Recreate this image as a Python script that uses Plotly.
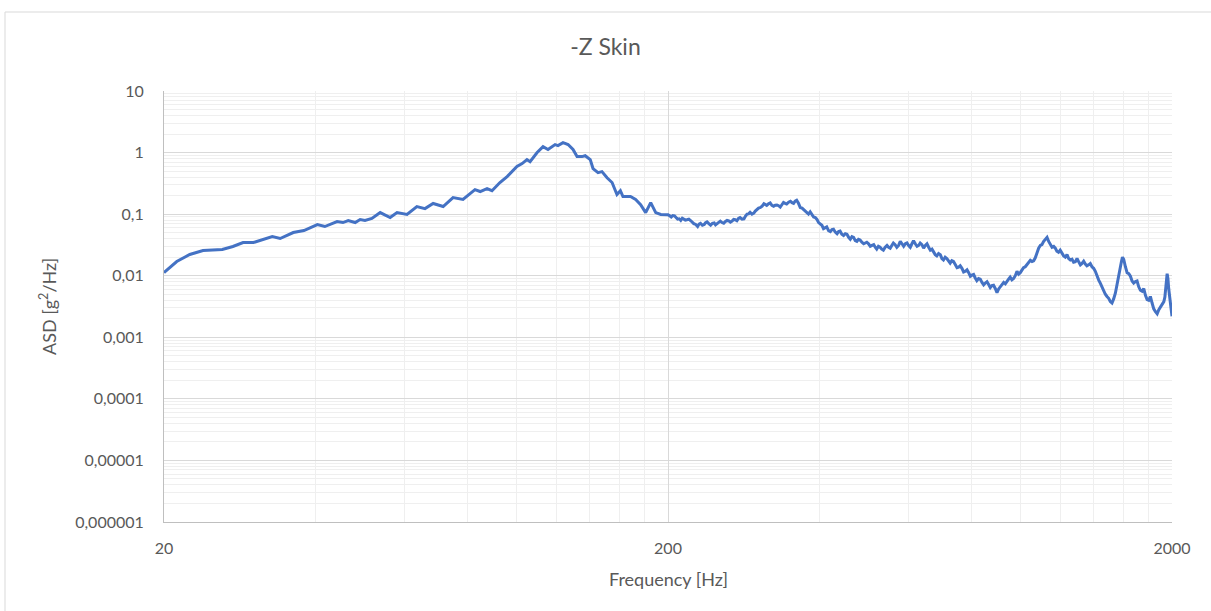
import plotly.graph_objects as go

# Measured acceleration spectral density, -Z skin location
freq_low = [20.0, 20.1, 21.2, 22.5, 23.9, 26.1, 27.4, 28.7, 30.1, 31.6, 32.8, 34.0, 36.1, 37.9,
            40.3, 41.7, 44.1, 45.3, 46.4, 47.9, 49.0, 50.1, 51.7, 53.7, 56.2, 58.0, 60.7, 63.5,
            65.9, 68.4, 71.6, 74.9, 78.4, 82.8, 84.8, 87.5, 89.5, 92.8, 95.9, 100.3, 102.7, 105.0,
            106.5, 110.0, 113.0, 115.6, 119.4, 121.0, 123.8, 126.7, 129.6, 132.0, 135.0, 137.0,
            140.2, 142.0, 145.3, 147.9, 151.4, 154.9, 158.4, 160.9, 162.8, 168.5, 172.5, 176.5,
            180.6, 184.8, 189.1, 193.5]
asd_low = [0.0112, 0.0117, 0.0170, 0.0221, 0.0257, 0.0266, 0.0298, 0.0346, 0.0346, 0.0387, 0.0433,
           0.0402, 0.0503, 0.0542, 0.0678, 0.0629, 0.0758, 0.0730, 0.0787, 0.0730, 0.0817, 0.0787,
           0.0850, 0.106, 0.088, 0.106, 0.099, 0.133, 0.123, 0.149, 0.133, 0.186, 0.173, 0.25, 0.233,
           0.26, 0.24, 0.326, 0.408, 0.593, 0.663, 0.77, 0.71, 1.0, 1.25, 1.12, 1.35, 1.30, 1.45, 1.35,
           1.12, 0.86, 0.86, 0.89, 0.77, 0.55, 0.473, 0.49, 0.39, 0.326, 0.208, 0.24, 0.193, 0.193,
           0.173, 0.143, 0.106, 0.154, 0.106, 0.099]

# Upper band, 200-2000 Hz
freq_high = [200, 201.5, 203, 204.5, 206, 207.5, 209, 210.5, 212, 213.5, 215, 216.5, 218, 220,
             222, 223.5, 225, 227, 229, 230.5, 232, 234, 236, 237.5, 239, 241, 243, 245, 247,
             248.5, 250, 252, 254, 256, 258, 260, 262, 264, 266, 268, 270, 272, 274, 276, 278,
             280.5, 283, 285, 287, 289, 291, 293.5, 296, 298, 300, 302.5, 305, 307.5, 310, 312,
             314, 316.5, 319, 321.5, 324, 326.5, 329, 331.5, 334, 336.5, 339, 341.5, 344, 347,
             350, 352.5, 355, 357.5, 360, 363, 366, 369, 372, 374.5, 377, 380, 383, 386, 389,
             392, 395, 398, 401, 404, 407, 410, 413, 416.5, 420, 423, 426, 429.5, 433, 436, 439,
             442.5, 446, 449.5, 453, 456.5, 460, 463.5, 467, 470.5, 474, 477.5, 481, 485, 489,
             492.5, 496, 500, 504, 508, 512, 515.5, 519, 523, 527, 531, 535, 539.5, 544, 548, 552,
             556, 560, 564.5, 569, 573.5, 578, 582.5, 587, 591.5, 596, 600.5, 605, 609.5, 614,
             619, 624, 628.5, 633, 638, 643, 648, 653, 658, 663, 668, 673, 678, 683, 688.5, 694,
             699, 704, 709.5, 715, 720.5, 726, 731.5, 737, 743, 749, 754.5, 760, 766, 772, 778,
             784, 790, 796, 802, 808, 814, 820, 826.5, 833, 839.5, 846, 852.5, 859, 865.5, 872,
             878.5, 885, 892, 899, 906, 913, 920, 927, 934, 941, 948, 955, 962.5, 970, 977.5, 985,
             992.5, 1000, 1007.5, 1015, 1023, 1031, 1039, 1047, 1055, 1063, 1071, 1079, 1087.5,
             1096, 1104, 1112, 1121, 1130, 1138.5, 1147, 1156, 1165, 1173.5, 1182, 1191, 1200,
             1209.5, 1219, 1228.5, 1238, 1247.5, 1257, 1266.5, 1276, 1286, 1296, 1306, 1316,
             1326, 1336, 1346, 1356, 1366.5, 1377, 1387.5, 1398, 1409, 1420, 1431, 1442, 1453,
             1464, 1475, 1486, 1497.5, 1509, 1520.5, 1532, 1544, 1556, 1568, 1580, 1587.5, 1595,
             1599.5, 1604, 1616.5, 1629, 1641.5, 1654, 1666.5, 1679, 1692, 1705, 1718, 1731,
             1744.5, 1758, 1771.5, 1785, 1798.5, 1812, 1826, 1840, 1854.5, 1869, 1883, 1897, 1912,
             1927, 1936, 1945, 1950.5, 1956, 1963, 1970, 1978, 1986, 1993, 2000]
asd_high = [0.098, 0.094, 0.090, 0.095, 0.094, 0.088, 0.083, 0.084, 0.079, 0.086, 0.084, 0.080,
            0.081, 0.083, 0.078, 0.073, 0.070, 0.068, 0.063, 0.069, 0.071, 0.066, 0.068, 0.073,
            0.075, 0.070, 0.066, 0.071, 0.072, 0.067, 0.069, 0.074, 0.077, 0.073, 0.071, 0.076,
            0.079, 0.078, 0.074, 0.077, 0.082, 0.081, 0.078, 0.085, 0.088, 0.083, 0.084, 0.093,
            0.100, 0.101, 0.107, 0.100, 0.104, 0.112, 0.118, 0.125, 0.128, 0.135, 0.148, 0.141,
            0.139, 0.147, 0.152, 0.139, 0.134, 0.140, 0.141, 0.137, 0.130, 0.142, 0.155, 0.150,
            0.146, 0.156, 0.162, 0.154, 0.150, 0.163, 0.168, 0.150, 0.128, 0.125, 0.118, 0.111,
            0.104, 0.100, 0.109, 0.098, 0.090, 0.088, 0.082, 0.073, 0.068, 0.066, 0.058, 0.061,
            0.062, 0.054, 0.052, 0.056, 0.057, 0.051, 0.048, 0.052, 0.053, 0.047, 0.045, 0.048,
            0.047, 0.042, 0.039, 0.043, 0.042, 0.037, 0.036, 0.039, 0.038, 0.035, 0.033, 0.034,
            0.035, 0.033, 0.030, 0.031, 0.032, 0.029, 0.027, 0.030, 0.029, 0.027, 0.026, 0.029,
            0.031, 0.029, 0.028, 0.031, 0.034, 0.032, 0.029, 0.031, 0.036, 0.033, 0.030, 0.033,
            0.034, 0.031, 0.029, 0.033, 0.037, 0.033, 0.030, 0.031, 0.034, 0.032, 0.028, 0.031,
            0.033, 0.029, 0.026, 0.027, 0.024, 0.022, 0.021, 0.023, 0.022, 0.019, 0.018, 0.020,
            0.019, 0.017, 0.016, 0.0175, 0.017, 0.0152, 0.0135, 0.0138, 0.0145, 0.0132, 0.0115,
            0.0118, 0.0125, 0.0112, 0.0098, 0.0102, 0.0105, 0.0092, 0.0083, 0.0090, 0.0088,
            0.0078, 0.0071, 0.0076, 0.0080, 0.0072, 0.0064, 0.0069, 0.0070, 0.0062, 0.0053,
            0.0061, 0.0066, 0.0070, 0.0078, 0.0074, 0.0082, 0.0088, 0.0095, 0.0086, 0.0090,
            0.0100, 0.0118, 0.0106, 0.0112, 0.0124, 0.0135, 0.0140, 0.0150, 0.0160, 0.0178,
            0.0170, 0.0175, 0.0195, 0.024, 0.028, 0.031, 0.032, 0.036, 0.039, 0.042, 0.036,
            0.033, 0.029, 0.030, 0.028, 0.025, 0.024, 0.026, 0.023, 0.021, 0.020, 0.022, 0.019,
            0.018, 0.0185, 0.0165, 0.0168, 0.019, 0.0168, 0.015, 0.0158, 0.0172, 0.0155, 0.0145,
            0.0150, 0.0158, 0.0140, 0.0132, 0.0118, 0.0098, 0.0085, 0.0075, 0.0065, 0.0055,
            0.0050, 0.0046, 0.0043, 0.0038, 0.0036, 0.0042, 0.0052, 0.0072, 0.0105, 0.0150,
            0.0170, 0.0200, 0.0195, 0.0185, 0.0140, 0.0112, 0.0108, 0.0098, 0.0082, 0.0076,
            0.0080, 0.0082, 0.0066, 0.0058, 0.0056, 0.0062, 0.0048, 0.0041, 0.0040, 0.0046,
            0.0036, 0.0029, 0.0026, 0.0024, 0.0028, 0.0031, 0.0036, 0.0038, 0.0045, 0.0060,
            0.0085, 0.0108, 0.0090, 0.0062, 0.0042, 0.0032, 0.0028, 0.0022]

freq = freq_low + freq_high
asd = asd_low + asd_high

# Axis ticks
x_ticks = [20, 200, 2000]
x_minor = [40, 60, 80, 100, 120, 140, 160, 180, 400, 600, 800, 1000, 1200, 1400, 1600, 1800]
y_ticks = [10, 1, 0.1, 0.01, 0.001, 0.0001, 0.00001, 0.000001]
y_labels = ["10", "1", "0,1", "0,01", "0,001", "0,0001", "0,00001", "0,000001"]
y_minor = [m * d for d in y_ticks[1:] for m in range(2, 10)]

FONT = "Lato, Open Sans, sans-serif"
TXT = "#595959"

fig = go.Figure()
fig.add_trace(go.Scatter(x=freq, y=asd, mode="lines",
                         line=dict(color="#4472C4", width=3), showlegend=False))

fig.update_layout(
    width=1211, height=611,
    margin=dict(l=164, r=39, t=91, b=89),
    paper_bgcolor="white", plot_bgcolor="white",
    font=dict(family=FONT, color=TXT),
    title=dict(text="-Z Skin", x=0.5, xanchor="center", y=1 - 47 / 611, yanchor="middle",
               font=dict(size=23, color=TXT, family=FONT)),
    xaxis=dict(type="log", range=[1.30103, 3.30103], tickmode="array", tickvals=x_ticks,
               ticktext=[str(v) for v in x_ticks], tickfont=dict(size=16, color=TXT),
               showgrid=True, gridcolor="#d9d9d9", gridwidth=1,
               showline=True, linecolor="#bfbfbf", linewidth=1, ticks="", ticklabelstandoff=12,
               minor=dict(tickmode="array", tickvals=x_minor, showgrid=True,
                          gridcolor="#efefef", gridwidth=1),
               zeroline=False),
    yaxis=dict(type="log", range=[-6, 1], tickmode="array", tickvals=y_ticks, ticktext=y_labels,
               tickfont=dict(size=16, color=TXT),
               showgrid=True, gridcolor="#d9d9d9", gridwidth=1,
               showline=True, linecolor="#bfbfbf", linewidth=1, ticks="", ticklabelstandoff=16,
               minor=dict(tickmode="array", tickvals=y_minor, showgrid=True,
                          gridcolor="#efefef", gridwidth=1),
               zeroline=False),
    annotations=[
        dict(text="Frequency [Hz]", xref="paper", yref="paper", x=0.5, y=-57 / 431,
             xanchor="center", yanchor="middle", showarrow=False,
             font=dict(size=18, color=TXT, family=FONT)),
        dict(text="ASD [g<sup>2</sup>/Hz]", xref="paper", yref="paper", x=-116 / 1008,
             y=(522 - 307) / 431, xanchor="center", yanchor="middle", textangle=-90,
             showarrow=False, font=dict(size=18, color=TXT, family=FONT)),
    ],
    shapes=[
        dict(type="line", xref="paper", yref="paper", x0=-159 / 1008, x1=1.2,
             y0=(522 - 12) / 431, y1=(522 - 12) / 431, line=dict(color="#d9d9d9", width=1)),
        dict(type="line", xref="paper", yref="paper", x0=-159 / 1008, x1=-159 / 1008,
             y0=(522 - 12) / 431, y1=-0.3, line=dict(color="#d9d9d9", width=1)),
    ],
)

fig.write_html("out.html")
